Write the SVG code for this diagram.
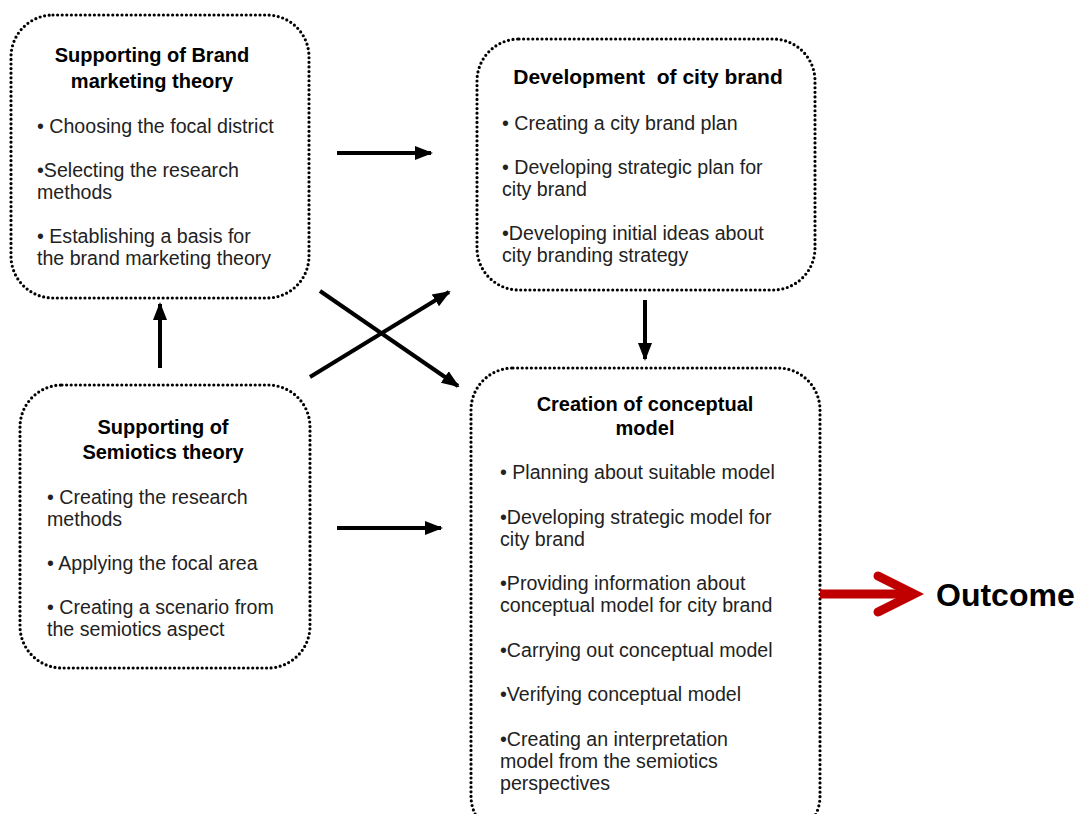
<svg xmlns="http://www.w3.org/2000/svg" width="1086" height="814" viewBox="0 0 1086 814">
<style>
.box{fill:none;stroke:#000;stroke-width:3.2;stroke-dasharray:0 4.6;stroke-linecap:round}
.t{font-family:"Liberation Sans",Arial,sans-serif;font-weight:bold;font-size:20px;fill:#000;text-anchor:middle}
.b{font-family:"Liberation Sans",Arial,sans-serif;font-size:19.6px;fill:#222}
.c{stroke:#000;stroke-width:4;fill:none}
</style>
<defs>
<marker id="ah" markerUnits="userSpaceOnUse" markerWidth="18" markerHeight="16" refX="16" refY="7" orient="auto" viewBox="0 0 18 14">
<path d="M0,0 L18,7 L0,14 z" fill="#000"/>
</marker>
</defs>
<rect width="1086" height="814" fill="#fff"/>
<g id="node-brand">
<rect class="box" x="11" y="15" width="298" height="283" rx="42"/>
<text class="t" x="152" y="62">Supporting of Brand</text>
<text class="t" x="152" y="88">marketing theory</text>
<text class="b" x="37" y="133">• Choosing the focal district</text>
<text class="b" x="37" y="177">•Selecting the research</text>
<text class="b" x="37" y="199">methods</text>
<text class="b" x="37" y="243">• Establishing a basis for</text>
<text class="b" x="37" y="265">the brand marketing theory</text>
</g>
<g id="node-city">
<rect class="box" x="477" y="39" width="338" height="251" rx="42"/>
<text class="t" x="648" y="84" style="font-size:21px" xml:space="preserve">Development  of city brand</text>
<text class="b" x="502" y="130">• Creating a city brand plan</text>
<text class="b" x="502" y="174">• Developing strategic plan for</text>
<text class="b" x="502" y="196">city brand</text>
<text class="b" x="502" y="240">•Developing initial ideas about</text>
<text class="b" x="502" y="262">city branding strategy</text>
</g>
<g id="node-semiotics">
<rect class="box" x="20" y="385" width="290" height="283" rx="42"/>
<text class="t" x="163" y="434">Supporting of</text>
<text class="t" x="163" y="459">Semiotics theory</text>
<text class="b" x="47" y="504">• Creating the research</text>
<text class="b" x="47" y="526">methods</text>
<text class="b" x="47" y="570">• Applying the focal area</text>
<text class="b" x="47" y="614">• Creating a scenario from</text>
<text class="b" x="47" y="636">the semiotics aspect</text>
</g>
<g id="node-model">
<rect class="box" x="471" y="368" width="349" height="470" rx="42"/>
<text class="t" x="645" y="411">Creation of conceptual</text>
<text class="t" x="645" y="435">model</text>
<text class="b" x="500" y="479">• Planning about suitable model</text>
<text class="b" x="500" y="524">•Developing strategic model for</text>
<text class="b" x="500" y="546">city brand</text>
<text class="b" x="500" y="590">•Providing information about</text>
<text class="b" x="500" y="612">conceptual model for city brand</text>
<text class="b" x="500" y="657">•Carrying out conceptual model</text>
<text class="b" x="500" y="701">•Verifying conceptual model</text>
<text class="b" x="500" y="746">•Creating an interpretation</text>
<text class="b" x="500" y="768">model from the semiotics</text>
<text class="b" x="500" y="790">perspectives</text>
</g>
<g id="node-outcome">
<text x="936" y="606" font-family="Liberation Sans, Arial, sans-serif" font-weight="bold" font-size="32" fill="#000">Outcome</text>
</g>
<g id="connectors">
<line class="c" x1="337" y1="153" x2="431" y2="153" marker-end="url(#ah)"/>
<line class="c" x1="337" y1="528" x2="441" y2="528" marker-end="url(#ah)"/>
<line class="c" x1="160" y1="368" x2="160" y2="304" marker-end="url(#ah)"/>
<line class="c" x1="645" y1="300" x2="645" y2="359" marker-end="url(#ah)"/>
<line class="c" x1="320" y1="291" x2="458" y2="386" marker-end="url(#ah)"/>
<line class="c" x1="310" y1="377" x2="449" y2="292" marker-end="url(#ah)"/>
<line x1="820" y1="594" x2="910" y2="594" stroke="#C00000" stroke-width="9"/>
<polyline points="878,576 914,594 878,612" fill="none" stroke="#C00000" stroke-width="9" stroke-linecap="round" stroke-linejoin="miter"/>
</g>
</svg>
